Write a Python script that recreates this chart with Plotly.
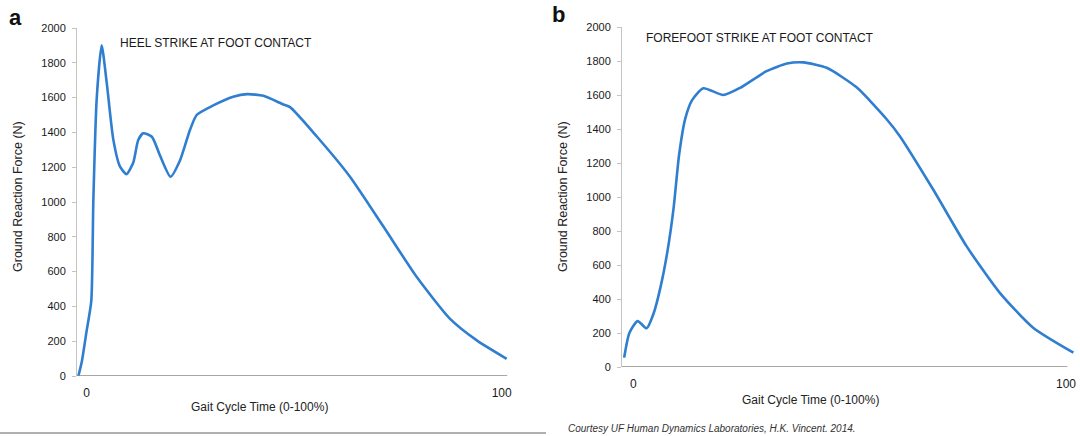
import plotly.graph_objects as go

# ---- data ----
heel_x = [-2.0, -1.2, 0.0, 1.1, 1.6, 2.4, 3.6, 4.8, 6.4, 8.0, 9.6, 11.2, 12.4, 13.6,
          15.7, 17.7, 20.2, 22.5, 24.9, 26.5, 30.5, 35.3, 38.7, 42.6, 47.4, 49.0,
          55.4, 63.4, 71.5, 79.5, 87.5, 94.0, 101.2]
heel_y = [0, 80, 262, 430, 1010, 1590, 1900, 1690, 1360, 1205, 1160, 1225, 1355, 1395,
          1375, 1265, 1145, 1240, 1415, 1500, 1555, 1605, 1620, 1610, 1560, 1545,
          1378, 1147, 859, 570, 330, 205, 99]

fore_x = [-2.1, -0.9, 1.0, 3.1, 4.7, 6.3, 7.9, 9.3, 10.6, 12.0, 13.6, 16.2, 20.8, 24.7,
          30.8, 35.5, 39.3, 44.7, 51.6, 58.6, 61.6, 69.3, 77.0, 84.7, 92.4, 101.7]
fore_y = [55, 200, 270, 228, 315, 470, 680, 930, 1250, 1460, 1570, 1640, 1600, 1642,
          1740, 1785, 1792, 1760, 1645, 1456, 1358, 1044, 711, 436, 231, 84]

y_ticks = [0, 200, 400, 600, 800, 1000, 1200, 1400, 1600, 1800, 2000]
x_ticks = [0, 100]
x_tick_labels = ["0", "100"]

titles = ["HEEL STRIKE AT FOOT CONTACT", "FOREFOOT STRIKE AT FOOT CONTACT"]
x_title = "Gait Cycle Time (0-100%)"
y_title = "Ground Reaction Force (N)"
credit = "Courtesy UF Human Dynamics Laboratories, H.K. Vincent. 2014."

W, H = 1080, 436
BLUE = "#2f7ed0"
FONT = "Liberation Sans, Arial, sans-serif"

def fx(px):
    return px / W

def fy(py):
    return 1 - py / H

fig = go.Figure()
fig.add_trace(go.Scatter(x=heel_x, y=heel_y, mode="lines", xaxis="x", yaxis="y",
                         line=dict(color=BLUE, width=2.6, shape="spline", smoothing=0.6),
                         showlegend=False, hoverinfo="skip"))
fig.add_trace(go.Scatter(x=fore_x, y=fore_y, mode="lines", xaxis="x2", yaxis="y2",
                         line=dict(color=BLUE, width=2.6, shape="spline", smoothing=0.6),
                         showlegend=False, hoverinfo="skip"))

ax_a = dict(left=-2.34, right=101.5, base_end=101.35)
ax_b = dict(left=-2.6, right=102.0, base_end=100.3)

yaxis_common = dict(range=[0, 2000], tickvals=y_ticks, showgrid=False, zeroline=False,
                    showline=True, linecolor="#c4c4c4", linewidth=1,
                    ticks="outside", ticklen=4, tickcolor="#c4c4c4",
                    tickfont=dict(family=FONT, size=11, color="#1a1a1a"),
                    ticklabelstandoff=4, fixedrange=True, automargin=False)
xaxis_common = dict(tickvals=x_ticks, ticktext=x_tick_labels, showgrid=False,
                    zeroline=False, showline=False, ticks="",
                    tickfont=dict(family=FONT, size=12, color="#1a1a1a"),
                    ticklabelstandoff=8, fixedrange=True, automargin=False)

fig.update_layout(
    width=W, height=H, margin=dict(l=0, r=0, t=0, b=0, pad=0), autosize=False,
    paper_bgcolor="white", plot_bgcolor="rgba(0,0,0,0)",
    xaxis=dict(domain=[fx(77), fx(507.9)], range=[ax_a["left"], ax_a["right"]],
               anchor="y", **xaxis_common),
    yaxis=dict(domain=[fy(376), fy(28)], anchor="x", **yaxis_common),
    xaxis2=dict(domain=[fx(622), fx(1074.7)], range=[ax_b["left"], ax_b["right"]],
                anchor="y2", **xaxis_common),
    yaxis2=dict(domain=[fy(367), fy(27)], anchor="x2", **yaxis_common),
)

# x baselines
fig.add_shape(type="line", xref="x", yref="y", x0=ax_a["left"], x1=ax_a["base_end"],
              y0=0, y1=0, line=dict(color="#8a8a8a", width=1.5))
fig.add_shape(type="line", xref="x2", yref="y2", x0=ax_b["left"], x1=ax_b["base_end"],
              y0=0, y1=0, line=dict(color="#8a8a8a", width=1.5))
# bottom separator under panel a
fig.add_shape(type="line", xref="paper", yref="paper", x0=0, x1=fx(546),
              y0=fy(433), y1=fy(433), line=dict(color="#b0b0b0", width=2))

def label(text, px, py, size, angle=0, color="#222", xanchor="center"):
    return dict(text=text, x=fx(px), y=fy(py), xref="paper", yref="paper",
                xanchor=xanchor, yanchor="middle", textangle=angle, showarrow=False,
                font=dict(family=FONT, size=size, color=color))

ann = [
    label("<b>a</b>", 15, 17, 22, color="#111"),
    label("<b>b</b>", 558, 15, 22, color="#111"),
    label(titles[0], 216, 43, 12, color="#1a1a1a"),
    label(titles[1], 760, 38, 12, color="#1a1a1a"),
    label(x_title, 259, 407, 12),
    label(x_title, 810, 400, 12),
    label(y_title, 18, 197, 12.5, angle=-90),
    label(y_title, 563, 197, 12.5, angle=-90),
    label("<i>" + credit + "</i>", 566, 428, 10, color="#333", xanchor="left"),
]
fig.update_layout(annotations=ann)

fig.write_html("out.html", config={"displayModeBar": False},
               post_script="document.body.style.margin='0';document.body.style.padding='0';")
